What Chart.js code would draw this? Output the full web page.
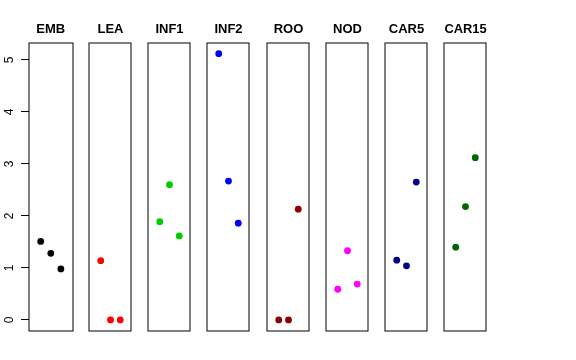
<!DOCTYPE html>
<html>
<head>
<meta charset="utf-8">
<script src="https://cdn.jsdelivr.net/npm/chart.js@4.4.1/dist/chart.umd.min.js"></script>
<style>
  html, body { margin: 0; padding: 0; background: #fff; }
  #wrap { position: relative; width: 576px; height: 360px; overflow: hidden; background: #fff; }
  canvas { position: absolute; top: 0; }
</style>
</head>
<body>
<div id="wrap"></div>
<script>
// ---- data ----
const categories = ["EMB", "LEA", "INF1", "INF2", "ROO", "NOD", "CAR5", "CAR15"];
const replicateX = [1, 2, 3];
const valsEMB   = [1.51, 1.28, 0.98];
const valsLEA   = [1.14, 0.00, 0.00];
const valsINF1  = [1.89, 2.60, 1.615];
const valsINF2  = [5.12, 2.67, 1.86];
const valsROO   = [0.00, 0.00, 2.13];
const valsNOD   = [0.59, 1.33, 0.69];
const valsCAR5  = [1.15, 1.04, 2.65];
const valsCAR15 = [1.40, 2.18, 3.12];
const seriesValues = [valsEMB, valsLEA, valsINF1, valsINF2, valsROO, valsNOD, valsCAR5, valsCAR15];
const yTickLabels = ["0", "1", "2", "3", "4", "5"];
const yTicks = [0, 1, 2, 3, 4, 5];

// ---- styles / layout ----
const colors = ["#000000", "#FF0000", "#00CD00", "#0000FF", "#8B0000", "#FF00FF", "#00008B", "#006400"];
const FONT = "'Liberation Sans', Arial, Helvetica, sans-serif";
const yMin = -0.205, yMax = 5.325;
const xMin = -0.16, xMax = 4.16;
const panelLeft0 = 29, panelStep = 59.14, panelW = 45;
const canvasH = 334, padBottom = 3;
const titleFontSize = 13;

const boxPlugin = {
  id: 'panelBox',
  afterDraw(chart) {
    const a = chart.chartArea, ctx = chart.ctx;
    ctx.save();
    ctx.strokeStyle = '#000';
    ctx.lineWidth = 1;
    ctx.strokeRect(Math.round(a.left), Math.round(a.top), Math.round(a.right - a.left), Math.round(a.bottom - a.top));
    ctx.restore();
  }
};

const yLabelPlugin = {
  id: 'yLabels',
  afterDraw(chart) {
    const sc = chart.scales.y, ctx = chart.ctx;
    ctx.save();
    ctx.fillStyle = '#000';
    ctx.font = "12px " + FONT;
    ctx.textAlign = 'center';
    ctx.textBaseline = 'alphabetic';
    yTicks.forEach((v, i) => {
      const py = sc.getPixelForValue(v);
      ctx.save();
      ctx.translate(12.5, py);
      ctx.rotate(-Math.PI / 2);
      ctx.fillText(yTickLabels[i], 0, 0);
      ctx.restore();
    });
    ctx.restore();
  }
};

const wrap = document.getElementById('wrap');
categories.forEach((cat, i) => {
  const panelL = Math.round(panelLeft0 + panelStep * i);
  const first = i === 0;
  const cLeft = first ? 0 : panelL - 2;
  const cWidth = first ? panelL + panelW + 2 : panelW + 4;
  const cv = document.createElement('canvas');
  cv.width = cWidth; cv.height = canvasH;
  cv.style.left = cLeft + 'px';
  cv.style.width = cWidth + 'px'; cv.style.height = canvasH + 'px';
  wrap.appendChild(cv);

  const lh = titleFontSize * 1.2;
  const padTop = 29.5 - lh / 2;
  const padBot = 43 - padTop - lh;

  const yScale = {
    type: 'linear', min: yMin, max: yMax,
    display: first,
    afterBuildTicks: s => { s.ticks = yTicks.map(v => ({ value: v })); },
    border: { display: false },
    grid: { drawOnChartArea: false, drawTicks: true, tickLength: 8, color: '#000', lineWidth: 1 },
    ticks: { display: false }
  };
  if (first) yScale.afterFit = s => { s.width = panelLeft0; };

  new Chart(cv, {
    type: 'scatter',
    data: {
      datasets: [{
        data: replicateX.map((x, j) => ({ x: x, y: seriesValues[i][j] })),
        backgroundColor: colors[i],
        borderColor: colors[i],
        borderWidth: 0,
        pointRadius: 3.4,
        pointHoverRadius: 3.4
      }]
    },
    options: {
      responsive: false,
      animation: false,
      devicePixelRatio: 1,
      layout: { padding: { left: first ? 0 : 2, right: 2, top: 0, bottom: padBottom } },
      plugins: {
        legend: { display: false },
        tooltip: { enabled: false },
        title: {
          display: true,
          text: cat,
          fullSize: false,
          color: '#000',
          font: { family: FONT, size: titleFontSize, weight: 'bold' },
          padding: { top: padTop, bottom: padBot }
        }
      },
      scales: {
        x: { type: 'linear', min: xMin, max: xMax, display: false },
        y: yScale
      }
    },
    plugins: first ? [boxPlugin, yLabelPlugin] : [boxPlugin]
  });
});
</script>
</body>
</html>
